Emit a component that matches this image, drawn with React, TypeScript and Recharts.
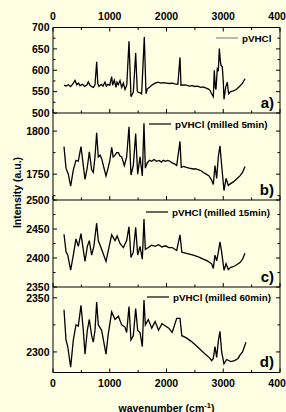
import { Line, LineChart, XAxis, YAxis } from 'recharts';

const W = 286;
const H = 412;
const PLOT_LEFT = 53;
const PLOT_RIGHT = 280;
const AXIS_H = 20;
const AXIS_W_L = 40;
const AXIS_W_R = 5;
const FONT = '"Liberation Sans", Arial, sans-serif';
const BG = '#ffffe3';

const X_TICKS = [0, 500, 1000, 1500, 2000, 2500, 3000, 3500, 4000];

// [wavenumber, intensity]
const SPEC_A: [number, number][] = [
    [194, 565], [230, 563], [270, 566], [310, 562], [350, 568], [388, 576], [420, 566], [450, 570],
    [476, 564], [520, 567], [560, 562], [600, 566], [622, 573], [650, 565], [690, 561], [711, 560],
    [740, 566], [770, 620], [790, 568], [810, 562], [850, 567], [880, 563], [916, 572], [940, 563],
    [970, 567], [1000, 565], [1034, 585], [1050, 565], [1080, 577], [1110, 560], [1128, 572], [1150, 566],
    [1181, 576], [1210, 560], [1240, 570], [1269, 555], [1300, 565], [1339, 668], [1374, 538], [1400, 545],
    [1415, 548], [1457, 640], [1485, 552], [1504, 548], [1540, 547], [1562, 545], [1609, 678], [1639, 545],
    [1660, 556], [1700, 560], [1750, 566], [1800, 570], [1850, 572], [1900, 570], [1950, 571], [2000, 570],
    [2050, 569], [2100, 570], [2150, 568], [2200, 567], [2238, 630], [2255, 565], [2300, 566], [2350, 565],
    [2400, 563], [2450, 564], [2500, 562], [2550, 563], [2600, 560], [2650, 561], [2700, 558], [2740, 556],
    [2766, 553], [2795, 545], [2825, 538], [2842, 600], [2860, 560], [2872, 555], [2895, 603], [2913, 598],
    [2931, 651], [2950, 620], [2960, 612], [2983, 608], [3000, 575], [3013, 532], [3030, 548], [3042, 560],
    [3072, 572], [3085, 555], [3095, 545], [3130, 550], [3177, 552], [3230, 555], [3294, 563], [3340, 570],
    [3383, 580],
];

const SPEC_B: [number, number][] = [
    [194, 1782], [229, 1757], [270, 1750], [311, 1736], [358, 1755], [405, 1766], [446, 1765], [493, 1782],
    [534, 1760], [564, 1744], [605, 1758], [640, 1776], [681, 1755], [710, 1752], [740, 1770], [769, 1798],
    [798, 1770], [830, 1772], [857, 1768], [895, 1758], [934, 1748], [970, 1757], [1000, 1765], [1034, 1781],
    [1060, 1770], [1093, 1772], [1120, 1775], [1152, 1775], [1180, 1771], [1210, 1770], [1257, 1760], [1298, 1770],
    [1339, 1805], [1374, 1749], [1415, 1760], [1457, 1797], [1492, 1750], [1533, 1770], [1574, 1748], [1603, 1809],
    [1627, 1757], [1660, 1763], [1700, 1766], [1740, 1765], [1780, 1767], [1827, 1765], [1870, 1766], [1910, 1764],
    [1944, 1766], [1980, 1765], [2020, 1766], [2062, 1765], [2100, 1763], [2140, 1762], [2180, 1760], [2238, 1788],
    [2260, 1758], [2300, 1759], [2350, 1758], [2400, 1757], [2473, 1756], [2520, 1756], [2570, 1755], [2610, 1754],
    [2649, 1752], [2700, 1750], [2750, 1748], [2796, 1743], [2825, 1738], [2854, 1760], [2884, 1745], [2913, 1770],
    [2942, 1783], [2972, 1760], [3013, 1731], [3050, 1745], [3089, 1737], [3130, 1739], [3177, 1741], [3230, 1744],
    [3294, 1748], [3340, 1752], [3383, 1759],
];

const SPEC_C: [number, number][] = [
    [194, 2441], [229, 2411], [260, 2405], [311, 2379], [358, 2405], [405, 2433], [446, 2420], [493, 2442],
    [534, 2414], [564, 2394], [605, 2420], [640, 2430], [681, 2405], [720, 2420], [769, 2460], [798, 2430],
    [857, 2415], [934, 2394], [990, 2420], [1034, 2440], [1093, 2430], [1130, 2438], [1180, 2425], [1240, 2418],
    [1298, 2430], [1339, 2454], [1374, 2401], [1415, 2410], [1457, 2453], [1492, 2405], [1533, 2420], [1574, 2398],
    [1603, 2467], [1627, 2415], [1680, 2418], [1740, 2422], [1800, 2420], [1860, 2423], [1920, 2419], [1980, 2421],
    [2040, 2418], [2100, 2418], [2180, 2413], [2238, 2440], [2270, 2410], [2350, 2408], [2473, 2405], [2560, 2402],
    [2649, 2398], [2720, 2395], [2796, 2390], [2825, 2382], [2854, 2405], [2884, 2395], [2913, 2410], [2942, 2428],
    [2972, 2410], [3013, 2379], [3050, 2390], [3089, 2380], [3130, 2384], [3177, 2385], [3230, 2388], [3294, 2392],
    [3340, 2398], [3383, 2408],
];

const SPEC_D: [number, number][] = [
    [194, 2339], [229, 2311], [260, 2305], [311, 2286], [358, 2311], [405, 2325], [446, 2324], [493, 2343],
    [534, 2320], [564, 2298], [605, 2320], [640, 2330], [681, 2315], [710, 2309], [740, 2320], [769, 2346],
    [798, 2325], [857, 2320], [934, 2298], [970, 2315], [1034, 2337], [1093, 2330], [1152, 2333], [1210, 2325],
    [1269, 2323], [1298, 2318], [1339, 2342], [1374, 2311], [1415, 2315], [1457, 2340], [1492, 2320], [1533, 2318],
    [1574, 2305], [1603, 2348], [1627, 2325], [1680, 2330], [1740, 2322], [1800, 2328], [1860, 2320], [1920, 2326],
    [1980, 2324], [2040, 2322], [2100, 2318], [2180, 2331], [2238, 2331], [2270, 2315], [2350, 2313], [2430, 2310],
    [2520, 2306], [2600, 2302], [2680, 2298], [2750, 2295], [2796, 2292], [2825, 2294], [2854, 2305], [2884, 2295],
    [2913, 2310], [2942, 2319], [2972, 2300], [3013, 2289], [3060, 2293], [3130, 2291], [3200, 2292], [3260, 2294],
    [3294, 2297], [3340, 2300], [3400, 2309],
];

const PANELS = [
    {
        id: 'a', top: 27.5, bottom: 113, domain: [500, 700], yTicks: [500, 525, 550, 575, 600, 625, 650, 675, 700],
        yLabels: [500, 550, 600, 650, 700], spec: SPEC_A, tag: 'a)', legend: 'pVHCl', legendColor: '#8a8a8a',
        legendX: 242, legendY: 38,
    },
    {
        id: 'b', top: 113, bottom: 200, domain: [1720, 1821], yTicks: [1725, 1750, 1775, 1800],
        yLabels: [1750, 1800], spec: SPEC_B, tag: 'b)', legend: 'pVHCl (milled 5min)', legendColor: '#000',
        legendX: 175, legendY: 124,
    },
    {
        id: 'c', top: 200, bottom: 287, domain: [2350, 2500], yTicks: [2350, 2375, 2400, 2425, 2450, 2475, 2500],
        yLabels: [2350, 2400, 2450, 2500], spec: SPEC_C, tag: 'c)', legend: 'pVHCl (milled 15min)', legendColor: '#000',
        legendX: 172, legendY: 212,
    },
    {
        id: 'd', top: 287, bottom: 372.5, domain: [2281, 2360], yTicks: [2300, 2325, 2350],
        yLabels: [2300, 2350], spec: SPEC_D, tag: 'd)', legend: 'pVHCl (milled 60min)', legendColor: '#000',
        legendX: 173, legendY: 297,
    },
];

function xTick(props: any, side: 'top' | 'bottom', showLabel: boolean) {
    const { x, y, payload } = props;
    const v = payload.value;
    const major = v % 1000 === 0;
    const len = major ? 4 : 2.5;
    const dir = side === 'top' ? 1 : -1;
    return (
        <g>
            <line x1={x} x2={x} y1={y} y2={y + dir * len} stroke="#000" strokeWidth={1} />
            {showLabel && major && (
                <text x={x} y={side === 'top' ? y - 7.5 : y + 14.5} textAnchor="middle" fontFamily={FONT}
                    fontWeight="bold" fontSize={10.5} fill="#000">
                    {v}
                </text>
            )}
        </g>
    );
}

function yTick(props: any, side: 'left' | 'right', labels: number[]) {
    const { x, y, payload } = props;
    const v = payload.value;
    const major = labels.includes(v);
    const len = major ? 4 : 2.5;
    const dir = side === 'left' ? 1 : -1;
    return (
        <g>
            <line x1={x} x2={x + dir * len} y1={y} y2={y} stroke="#000" strokeWidth={1} />
            {side === 'left' && major && (
                <text x={x - 3.5} y={y} dy="0.36em" textAnchor="end" fontFamily={FONT} fontWeight="bold"
                    fontSize={10.5} fill="#000">
                    {v}
                </text>
            )}
        </g>
    );
}

function Panel({ p, first, last }: { p: (typeof PANELS)[number]; first: boolean; last: boolean }) {
    const rows = p.spec.map(([w, v]) => ({ w, v }));
    const margin = {
        top: p.top - (first ? AXIS_H : 0),
        bottom: H - p.bottom - AXIS_H,
        left: PLOT_LEFT - AXIS_W_L,
        right: W - PLOT_RIGHT - AXIS_W_R,
    };
    return (
        <div style={{ position: 'absolute', left: 0, top: 0 }}>
            <LineChart width={W} height={H} data={rows} margin={margin}>
                {first && (
                    <XAxis xAxisId="top" orientation="top" type="number" dataKey="w" domain={[0, 4000]}
                        ticks={X_TICKS} interval={0} height={AXIS_H} tickSize={0} tickMargin={0}
                        axisLine={{ stroke: '#000', strokeWidth: 1 }} tick={(t: any) => xTick(t, 'top', true)} />
                )}
                <XAxis xAxisId="bot" orientation="bottom" type="number" dataKey="w" domain={[0, 4000]}
                    ticks={X_TICKS} interval={0} height={AXIS_H} tickSize={0} tickMargin={0}
                    axisLine={{ stroke: '#000', strokeWidth: 1 }} tick={(t: any) => xTick(t, 'bottom', last)} />
                <YAxis yAxisId="l" orientation="left" type="number" domain={p.domain} ticks={p.yTicks}
                    interval={0} width={AXIS_W_L} tickSize={0} tickMargin={0} allowDataOverflow
                    axisLine={{ stroke: '#000', strokeWidth: 1 }} tick={(t: any) => yTick(t, 'left', p.yLabels)} />
                <YAxis yAxisId="r" orientation="right" type="number" domain={p.domain} ticks={p.yTicks}
                    interval={0} width={AXIS_W_R} tickSize={0} tickMargin={0} allowDataOverflow
                    axisLine={{ stroke: '#000', strokeWidth: 1 }} tick={(t: any) => yTick(t, 'right', p.yLabels)} />
                <Line xAxisId="bot" yAxisId="l" type="linear" dataKey="v" stroke="#000" strokeWidth={1.3}
                    dot={false} activeDot={false} isAnimationActive={false} />
            </LineChart>
        </div>
    );
}

export default function App() {
    return (
        <div style={{ position: 'fixed', left: 0, top: 0, width: W, height: H, background: BG, overflow: 'hidden' }}>
            {PANELS.map((p, i) => (
                <Panel key={p.id} p={p} first={i === 0} last={i === PANELS.length - 1} />
            ))}
            <svg width={W} height={H} style={{ position: 'absolute', left: 0, top: 0 }}>
                <text transform="translate(21,192.5) rotate(-90)" textAnchor="middle" fontFamily={FONT}
                    fontWeight="bold" fontSize={10.5} fill="#000">
                    Intensity (a.u.)
                </text>
                <text x={166.5} y={412} textAnchor="middle" fontFamily={FONT} fontWeight="bold" fontSize={10.5} fill="#000">
                    wavenumber (cm
                    <tspan dy={-4.5} fontSize={7.5}>-1</tspan>
                    <tspan dy={4.5}>)</tspan>
                </text>
                {PANELS.map((p) => (
                    <g key={p.id}>
                        <text x={274} y={p.bottom - 5.5} textAnchor="end" fontFamily={FONT} fontWeight="bold"
                            fontSize={15} fill="#000">
                            {p.tag}
                        </text>
                        <line x1={p.legendX - 26} x2={p.legendX - 4} y1={p.legendY} y2={p.legendY}
                            stroke={p.legendColor} strokeWidth={1.2} />
                        <text x={p.legendX} y={p.legendY + 3.5} fontFamily={FONT} fontWeight="bold" fontSize={9.8}
                            fill="#000">
                            {p.legend}
                        </text>
                    </g>
                ))}
            </svg>
        </div>
    );
}
